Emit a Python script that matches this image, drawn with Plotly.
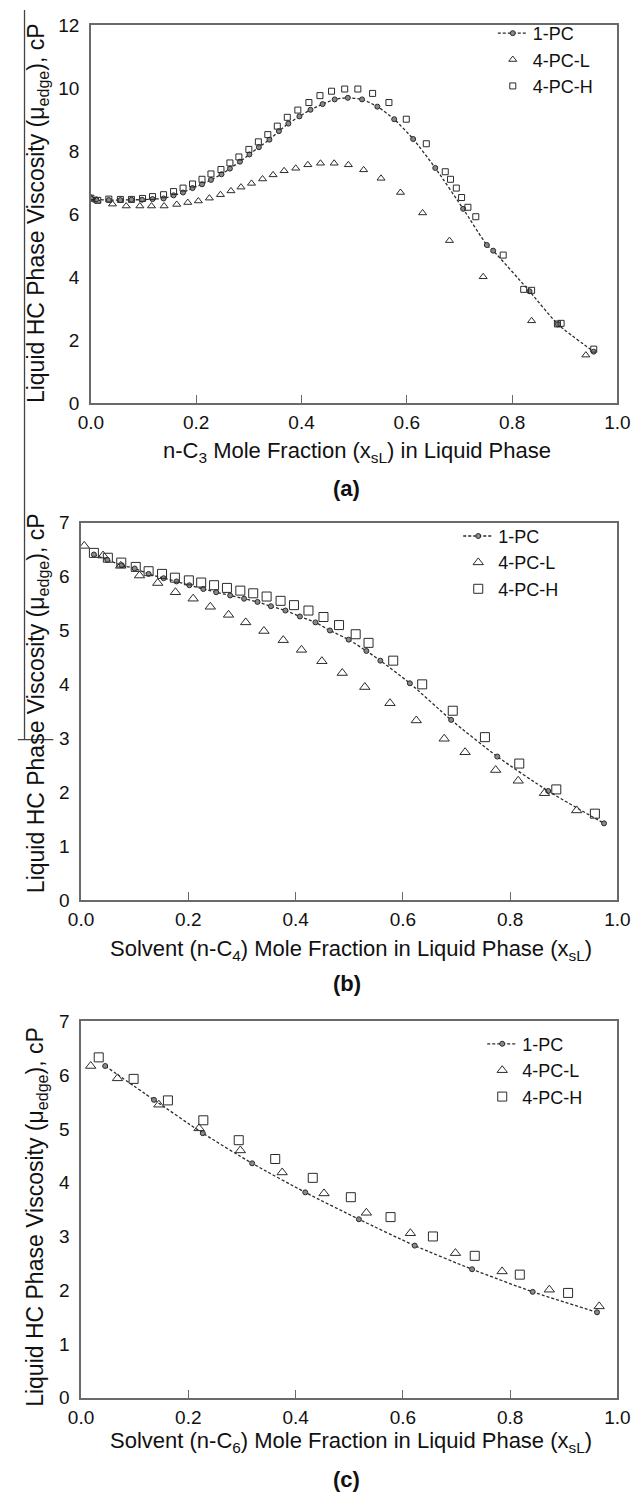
import plotly.graph_objects as go

W, H = 643, 1500

# ---------------- data ----------------
# Panel (a): n-C3
xa_1pc = [0.000, 0.010, 0.034, 0.056, 0.077, 0.097, 0.117, 0.138, 0.157, 0.175, 0.193, 0.211,
          0.228, 0.248, 0.264, 0.283, 0.301, 0.319, 0.339, 0.357, 0.375, 0.396, 0.417, 0.440,
          0.463, 0.488, 0.515, 0.544, 0.576, 0.612, 0.654, 0.707, 0.752, 0.764, 0.833, 0.887, 0.955]
ya_1pc = [6.50, 6.47, 6.45, 6.45, 6.46, 6.46, 6.48, 6.50, 6.60, 6.69, 6.83, 6.95,
          7.09, 7.27, 7.45, 7.67, 7.90, 8.13, 8.37, 8.64, 8.88, 9.11, 9.32, 9.50,
          9.65, 9.70, 9.65, 9.42, 9.02, 8.39, 7.47, 6.17, 5.02, 4.84, 3.55, 2.50, 1.63]
xa_L = [0.000, 0.011, 0.041, 0.067, 0.093, 0.115, 0.139, 0.163, 0.184, 0.204, 0.225, 0.246,
        0.266, 0.285, 0.305, 0.326, 0.346, 0.367, 0.389, 0.412, 0.436, 0.462, 0.489, 0.518,
        0.551, 0.588, 0.630, 0.681, 0.745, 0.837, 0.940]
ya_L = [6.52, 6.44, 6.32, 6.26, 6.26, 6.26, 6.26, 6.31, 6.37, 6.42, 6.51, 6.62,
        6.74, 6.86, 6.98, 7.12, 7.25, 7.38, 7.46, 7.57, 7.62, 7.62, 7.57, 7.41,
        7.14, 6.69, 6.04, 5.16, 4.01, 2.61, 1.52]
xa_H = [0.000, 0.013, 0.034, 0.056, 0.077, 0.098, 0.117, 0.138, 0.157, 0.175, 0.193, 0.211,
        0.228, 0.247, 0.264, 0.281, 0.300, 0.318, 0.336, 0.354, 0.373, 0.393, 0.414, 0.435,
        0.457, 0.482, 0.507, 0.535, 0.566, 0.599, 0.637, 0.673, 0.683, 0.694, 0.704, 0.716,
        0.731, 0.783, 0.822, 0.837, 0.886, 0.893, 0.955]
ya_H = [6.51, 6.44, 6.48, 6.47, 6.47, 6.50, 6.56, 6.62, 6.72, 6.83, 6.96, 7.11,
        7.28, 7.42, 7.63, 7.82, 8.06, 8.30, 8.53, 8.80, 9.08, 9.31, 9.55, 9.77,
        9.91, 9.98, 9.98, 9.84, 9.55, 9.02, 8.24, 7.35, 7.11, 6.83, 6.53, 6.22,
        5.92, 4.70, 3.61, 3.58, 2.51, 2.53, 1.71]

# Panel (b): n-C4
xb_1pc = [0.024, 0.049, 0.076, 0.100, 0.126, 0.154, 0.178, 0.202, 0.228, 0.252, 0.278, 0.304,
          0.329, 0.354, 0.381, 0.408, 0.437, 0.464, 0.499, 0.532, 0.558, 0.613, 0.690, 0.776,
          0.871, 0.975]
yb_1pc = [6.41, 6.31, 6.21, 6.15, 6.05, 5.97, 5.91, 5.84, 5.77, 5.71, 5.65, 5.59,
          5.53, 5.45, 5.37, 5.26, 5.15, 5.00, 4.83, 4.62, 4.44, 4.02, 3.34, 2.66,
          2.02, 1.42]
xb_L = [0.006, 0.041, 0.074, 0.109, 0.143, 0.176, 0.209, 0.241, 0.275, 0.307, 0.341, 0.377,
        0.411, 0.449, 0.487, 0.529, 0.576, 0.625, 0.677, 0.716, 0.773, 0.815, 0.864, 0.924]
yb_L = [6.57, 6.39, 6.20, 6.02, 5.88, 5.71, 5.59, 5.44, 5.29, 5.15, 4.99, 4.82,
        4.64, 4.43, 4.21, 3.95, 3.65, 3.33, 2.99, 2.74, 2.41, 2.21, 1.98, 1.66]
xb_H = [0.024, 0.050, 0.075, 0.102, 0.126, 0.151, 0.175, 0.201, 0.224, 0.248, 0.272, 0.297,
        0.321, 0.346, 0.372, 0.397, 0.424, 0.452, 0.481, 0.512, 0.536, 0.582, 0.636, 0.693,
        0.753, 0.817, 0.886, 0.958]
yb_H = [6.44, 6.35, 6.26, 6.18, 6.10, 6.05, 5.98, 5.93, 5.89, 5.84, 5.79, 5.74,
        5.69, 5.63, 5.55, 5.47, 5.37, 5.25, 5.10, 4.93, 4.77, 4.44, 4.00, 3.51,
        3.02, 2.53, 2.05, 1.60]

# Panel (c): n-C6
xc_1pc = [0.045, 0.136, 0.227, 0.319, 0.418, 0.518, 0.622, 0.729, 0.842, 0.962]
yc_1pc = [6.17, 5.54, 4.92, 4.36, 3.82, 3.32, 2.83, 2.39, 1.97, 1.59]
xc_L = [0.018, 0.068, 0.145, 0.220, 0.297, 0.375, 0.453, 0.532, 0.614, 0.698, 0.785, 0.873, 0.966]
yc_L = [6.17, 5.94, 5.45, 5.01, 4.60, 4.19, 3.80, 3.44, 3.06, 2.69, 2.35, 2.01, 1.70]
xc_H = [0.033, 0.098, 0.162, 0.228, 0.294, 0.362, 0.432, 0.503, 0.577, 0.656, 0.734, 0.818, 0.908]
yc_H = [6.33, 5.93, 5.53, 5.16, 4.79, 4.44, 4.09, 3.73, 3.36, 3.00, 2.64, 2.29, 1.95]

series_names = ["1-PC", "4-PC-L", "4-PC-H"]
x_ticks = [0.0, 0.2, 0.4, 0.6, 0.8, 1.0]

# ---------------- layout helpers ----------------
def px(x):
    return x / W

def py(y):
    return 1 - y / H

FONT = "Liberation Sans, Arial, Helvetica, sans-serif"
DARK = "#2b2b2b"
AXC = "#6a6a6a"

panels = [
    dict(data=(xa_1pc, ya_1pc, xa_L, ya_L, xa_H, ya_H), xdom=(81.2, 629.9), ydom=(15.7, 398.5),
         yr=[0, 12], ydt=2, leg=(500, 5), sizes=(5, 7, 6)),
    dict(data=(xb_1pc, yb_1pc, xb_L, yb_L, xb_H, yb_H), xdom=(70.9, 629.9), ydom=(520.0, 902.5),
         yr=[0, 7], ydt=1, leg=(464, 515), sizes=(5, 9, 9)),
    dict(data=(xc_1pc, yc_1pc, xc_L, yc_L, xc_H, yc_H), xdom=(70.9, 629.9), ydom=(1025.7, 1407.5),
         yr=[0, 7], ydt=1, leg=(489, 1030), sizes=(5, 9, 9)),
]

fig = go.Figure()
layout = dict(width=W, height=H, autosize=False, margin=dict(l=0, r=0, t=0, b=0),
              paper_bgcolor="white", plot_bgcolor="white",
              font=dict(family=FONT, color="#111111", size=19), showlegend=True)

for i, p in enumerate(panels):
    n = "" if i == 0 else str(i + 1)
    xa, ya = "x" + n, "y" + n
    lg = "legend" + n
    x1, y1, xL, yL, xH, yH = p["data"]
    s1, sL, sH = p["sizes"]
    fig.add_trace(go.Scatter(x=x1, y=y1, mode="lines+markers", name=series_names[0],
                             xaxis=xa, yaxis=ya, legend=lg,
                             line=dict(color=DARK, width=1.3, dash="3px,2px", shape="spline", smoothing=0.6),
                             marker=dict(symbol="circle", size=s1, color="#8a8a8a",
                                         line=dict(color=DARK, width=1))))
    fig.add_trace(go.Scatter(x=xL, y=yL, mode="markers", name=series_names[1],
                             xaxis=xa, yaxis=ya, legend=lg,
                             marker=dict(symbol="triangle-up-open", size=sL, color=DARK,
                                         line=dict(width=1))))
    fig.add_trace(go.Scatter(x=xH, y=yH, mode="markers", name=series_names[2],
                             xaxis=xa, yaxis=ya, legend=lg,
                             marker=dict(symbol="square-open", size=sH, color=DARK,
                                         line=dict(width=1))))
    layout["xaxis" + n] = dict(domain=[px(p["xdom"][0]), px(p["xdom"][1])], anchor=ya,
                               range=[0, 1], tickvals=x_ticks, tickformat=".1f",
                               ticks="inside", ticklen=8, tickwidth=1.3, tickcolor=AXC,
                               showline=True, linecolor=AXC, linewidth=1.5, mirror=True,
                               showgrid=False, zeroline=False, fixedrange=True,
                               ticklabeloverflow="allow",
                               tickfont=dict(size=19, family=FONT), ticklabelstandoff=2)
    layout["yaxis" + n] = dict(domain=[py(p["ydom"][1]), py(p["ydom"][0])], anchor=xa,
                               range=p["yr"], dtick=p["ydt"], ticks="",
                               showline=True, linecolor=AXC, linewidth=1.5, mirror=True,
                               showgrid=False, zeroline=False, fixedrange=True,
                               ticklabeloverflow="allow",
                               tickfont=dict(size=19, family=FONT), ticklabelstandoff=6)
    layout[lg] = dict(x=px(p["leg"][0]), y=py(p["leg"][1]), xanchor="left", yanchor="top",
                      bgcolor="rgba(0,0,0,0)", borderwidth=0,
                      font=dict(size=18, family=FONT, color="#111111"), tracegroupgap=0)

ylabel = "Liquid HC Phase Viscosity (μ<sub>edge</sub>), cP"
xtitles = [
    ("n-C<sub>3</sub> Mole Fraction (x<sub>sL</sub>) in Liquid Phase", 358, 448),
    ("Solvent (n-C<sub>4</sub>) Mole Fraction in Liquid Phase (x<sub>sL</sub>)", 352, 953),
    ("Solvent (n-C<sub>6</sub>) Mole Fraction in Liquid Phase (x<sub>sL</sub>)", 352, 1452),
]
labels = [("(a)", 348, 485), ("(b)", 348, 987), ("(c)", 348, 1490)]
ylab_pos = [(25, 206), (25, 703), (25, 1224)]

ann = []
for t, x, y in xtitles:
    ann.append(dict(text=t, x=px(x), y=py(y), xref="paper", yref="paper", showarrow=False,
                    xanchor="center", yanchor="middle", font=dict(size=22, family=FONT)))
for t, x, y in labels:
    ann.append(dict(text="<b>" + t + "</b>", x=px(x), y=py(y), xref="paper", yref="paper",
                    showarrow=False, xanchor="center", yanchor="middle",
                    font=dict(size=22, family=FONT)))
for x, y in ylab_pos:
    ann.append(dict(text=ylabel, x=px(x), y=py(y), xref="paper", yref="paper", showarrow=False,
                    textangle=-90, xanchor="center", yanchor="middle",
                    font=dict(size=23, family=FONT)))
layout["annotations"] = ann

# scan artefact lines at the left edge of the original figure
layout["shapes"] = [
    dict(type="line", xref="paper", yref="paper", x0=px(12), x1=px(12), y0=py(0), y1=py(740),
         line=dict(color="#444444", width=1.3)),
    dict(type="line", xref="paper", yref="paper", x0=px(5), x1=px(42), y0=py(740), y1=py(740),
         line=dict(color="#444444", width=1.3)),
]

fig.update_layout(**layout)
fig.write_html("out.html")
